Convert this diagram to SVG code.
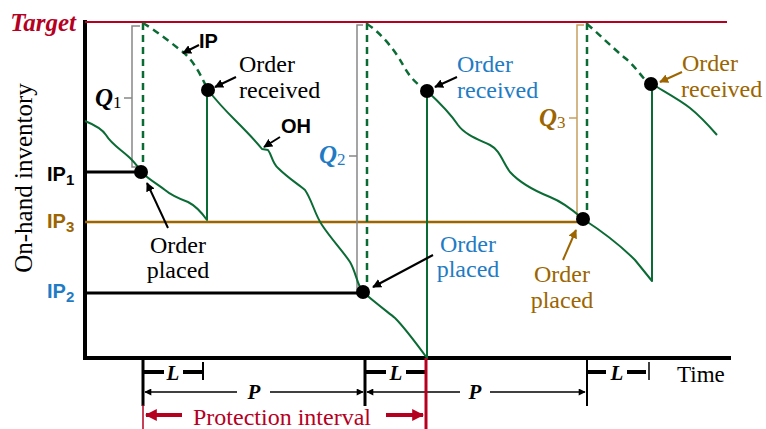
<svg xmlns="http://www.w3.org/2000/svg" width="766" height="429" viewBox="0 0 766 429">
<defs>
<marker id="ah" viewBox="0 0 10 10" refX="9" refY="5" markerWidth="9" markerHeight="9" markerUnits="userSpaceOnUse" orient="auto"><path d="M0,0 L10,5 L0,10 Z" fill="#000"/></marker>
<marker id="ahs" viewBox="0 0 10 10" refX="9" refY="5" markerWidth="8" markerHeight="7" markerUnits="userSpaceOnUse" orient="auto-start-reverse"><path d="M0,0 L10,5 L0,10 Z" fill="#000"/></marker>
<marker id="ahb" viewBox="0 0 10 10" refX="9" refY="5" markerWidth="9" markerHeight="9" markerUnits="userSpaceOnUse" orient="auto"><path d="M0,0 L10,5 L0,10 Z" fill="#9c6500"/></marker>
<marker id="ahr" viewBox="0 0 10 10" refX="9" refY="5" markerWidth="12" markerHeight="12" markerUnits="userSpaceOnUse" orient="auto"><path d="M0,0 L10,5 L0,10 Z" fill="#b5001f"/></marker>
</defs>
<style>
.serif{font-family:"Liberation Serif","Times New Roman",serif;font-size:24px}
.sans{font-family:"Liberation Sans",Arial,sans-serif;font-weight:bold;font-size:20px}
.qi{font-family:"Liberation Serif","Times New Roman",serif;font-style:italic;font-weight:bold;font-size:25px}
.sub{font-style:normal;font-weight:normal;font-size:17px}
.oh{fill:none;stroke:#0b6b35;stroke-width:2;stroke-linejoin:round}
.ip{fill:none;stroke:#0b6b35;stroke-width:2.5;stroke-dasharray:7,5}
.dot{fill:#000}
.brk{fill:none;stroke:#888;stroke-width:1.5}
.arr{stroke:#000;stroke-width:2;marker-end:url(#ah)}
.arrb{stroke:#9c6500;stroke-width:2;marker-end:url(#ahb)}
.blk{fill:#000}
.blue{fill:#1f7cc4}
.brown{fill:#9c6500}
.red{fill:#b5001f}
</style>
<rect width="766" height="429" fill="#fff"/>

<g id="axes">
<line x1="85" y1="20" x2="85" y2="360" stroke="#000" stroke-width="4"/>
<line x1="83" y1="358" x2="731" y2="358" stroke="#000" stroke-width="4"/>
<text class="serif" transform="translate(32,178) rotate(-90)" text-anchor="middle" style="font-size:25px">On-hand inventory</text>
<text class="serif" x="677" y="382" style="font-size:23px">Time</text>
</g>

<g id="target">
<line x1="85" y1="22" x2="727" y2="22" stroke="#b5001f" stroke-width="2"/>
<text x="76" y="31" text-anchor="end" class="qi red">Target</text>
</g>

<g id="levels">
<line x1="85" y1="222" x2="583" y2="222" stroke="#9c6500" stroke-width="2.5"/>
<line x1="85" y1="172" x2="141" y2="172" stroke="#000" stroke-width="3"/>
<line x1="85" y1="293" x2="363" y2="293" stroke="#000" stroke-width="3"/>
<text class="sans blk" x="47" y="181">IP<tspan font-size="15" dy="4">1</tspan></text>
<text class="sans brown" x="47" y="228">IP<tspan font-size="15" dy="4">3</tspan></text>
<text class="sans blue" x="47" y="298">IP<tspan font-size="15" dy="4">2</tspan></text>
</g>

<g id="brackets">
<path class="brk" d="M140,26 L132,26 L132,167 L137,167 M132,98 L124,98"/>
<text class="qi blk" x="95" y="106">Q<tspan class="sub" dy="2">1</tspan></text>
<path class="brk" d="M363,25 L357,25 L357,290 L361,290 M357,156 L349,156"/>
<text class="qi blue" x="319" y="163">Q<tspan class="sub" dy="2">2</tspan></text>
<path class="brk" style="stroke:#c8a060" d="M584,25 L577,25 L577,217 M577,118 L569,118"/>
<text class="qi brown" x="539" y="126">Q<tspan class="sub" dy="2">3</tspan></text>
</g>

<g id="connectors">
<path class="ip" d="M143,23 L143,172"/>
<path class="ip" d="M367,23 L367,290"/>
<path class="ip" d="M587,23 L587,217"/>
<path class="ip" d="M143,23 C155,30 170,42 183,52 C195,62 202,78 208,90"/>
<path class="ip" d="M367,24 C380,32 395,50 403,65 C410,78 418,85 427,91"/>
<path class="ip" d="M587,24 C600,35 615,50 625,58 C635,66 640,75 650,85"/>
<path class="oh" d="M85,121 C95,125 102,129 106,135 C112,145 122,150 130,158 C136,164 139,168 141,172 C150,180 157,184 165,190 C172,196 180,199 188,202 C196,206 202,213 207,220 L207,90"/>
<path class="oh" d="M208,90 C215,99 225,110 235,120 C245,130 255,140 262,149 L268,150 C272,155 272,163 278,168 C288,178 298,184 305,190 C312,200 315,215 322,225 C332,240 342,250 350,262 C356,272 357,285 363,292 C372,300 385,310 395,318 C405,328 416,343 427,358 L427,91"/>
<path class="oh" d="M427,91 C440,103 450,113 458,125 C465,135 480,140 490,145 C500,150 503,163 510,172 C520,183 535,191 550,197 C565,203 575,212 583,219 C600,230 620,245 635,260 L652,281 L652,84"/>
<path class="oh" d="M652,84 C665,92 680,100 690,108 C700,116 710,127 717,135"/>
<line class="arr" x1="199" y1="45" x2="183" y2="53"/>
<line class="arr" x1="280" y1="137" x2="264" y2="147"/>
<line class="arr" x1="236" y1="77" x2="215" y2="87"/>
<line class="arr" x1="457" y1="77" x2="435" y2="87"/>
<line class="arrb" x1="682" y1="72" x2="660" y2="82"/>
<line class="arr" x1="168" y1="228" x2="147" y2="183"/>
<line class="arr" x1="433" y1="255" x2="373" y2="287"/>
<line class="arrb" x1="563" y1="260" x2="576" y2="230"/>
</g>

<g id="dots">
<circle class="dot" cx="141" cy="172" r="7"/>
<circle class="dot" cx="208" cy="90" r="7"/>
<circle class="dot" cx="363" cy="292" r="7"/>
<circle class="dot" cx="427" cy="91" r="7"/>
<circle class="dot" cx="583" cy="219" r="7"/>
<circle class="dot" cx="651" cy="84" r="7"/>
</g>

<g id="labels">
<text class="sans blk" x="199" y="48">IP</text>
<text class="sans blk" x="281" y="133">OH</text>
<text class="serif blk" x="239" y="72">Order<tspan x="239" y="98">received</tspan></text>
<text class="serif blue" x="457" y="72">Order<tspan x="457" y="98">received</tspan></text>
<text class="serif brown" x="682" y="71">Order<tspan x="681" y="97">received</tspan></text>
<text class="serif blk" text-anchor="middle" x="178" y="253">Order<tspan x="178" y="278">placed</tspan></text>
<text class="serif blue" text-anchor="middle" x="468" y="252">Order<tspan x="468" y="277">placed</tspan></text>
<text class="serif brown" text-anchor="middle" x="562" y="282">Order<tspan x="562" y="308">placed</tspan></text>
</g>

<g id="timeline">
<line x1="143" y1="360" x2="143" y2="406" stroke="#000" stroke-width="3"/>
<line x1="365" y1="360" x2="365" y2="406" stroke="#000" stroke-width="3"/>
<line x1="587" y1="360" x2="587" y2="406" stroke="#000" stroke-width="2"/>
<line x1="143" y1="372" x2="164" y2="372" stroke="#000" stroke-width="4"/>
<line x1="183" y1="372" x2="203" y2="372" stroke="#000" stroke-width="4"/>
<line x1="203" y1="362" x2="203" y2="380" stroke="#000" stroke-width="2"/>
<text class="qi blk" x="173" y="380" text-anchor="middle" style="font-size:21px">L</text>
<line x1="365" y1="372" x2="386" y2="372" stroke="#000" stroke-width="4"/>
<line x1="406" y1="372" x2="426" y2="372" stroke="#000" stroke-width="4"/>
<text class="qi blk" x="396" y="380" text-anchor="middle" style="font-size:21px">L</text>
<line x1="587" y1="372" x2="606" y2="372" stroke="#000" stroke-width="4"/>
<line x1="627" y1="372" x2="646" y2="372" stroke="#000" stroke-width="4"/>
<line x1="649" y1="362" x2="649" y2="380" stroke="#000" stroke-width="1.5"/>
<text class="qi blk" x="617" y="380" text-anchor="middle" style="font-size:21px">L</text>
<line x1="237" y1="392" x2="145" y2="392" stroke="#000" stroke-width="1.5" marker-end="url(#ahs)"/>
<line x1="270" y1="392" x2="363" y2="392" stroke="#000" stroke-width="1.5" marker-end="url(#ahs)"/>
<text class="qi blk" x="254" y="399" text-anchor="middle" style="font-size:21px">P</text>
<line x1="460" y1="392" x2="367" y2="392" stroke="#000" stroke-width="1.5" marker-end="url(#ahs)"/>
<line x1="490" y1="392" x2="585" y2="392" stroke="#000" stroke-width="1.5" marker-end="url(#ahs)"/>
<text class="qi blk" x="475" y="399" text-anchor="middle" style="font-size:21px">P</text>
<line x1="143" y1="405" x2="143" y2="429" stroke="#b5001f" stroke-width="1.5"/>
<line x1="426" y1="358" x2="426" y2="429" stroke="#b5001f" stroke-width="3"/>
<line x1="182" y1="415" x2="146" y2="415" stroke="#b5001f" stroke-width="4" marker-end="url(#ahr)"/>
<line x1="386" y1="415" x2="423" y2="415" stroke="#b5001f" stroke-width="4" marker-end="url(#ahr)"/>
<text class="serif red" x="193" y="425" style="font-size:24px">Protection interval</text>
</g>
</svg>
